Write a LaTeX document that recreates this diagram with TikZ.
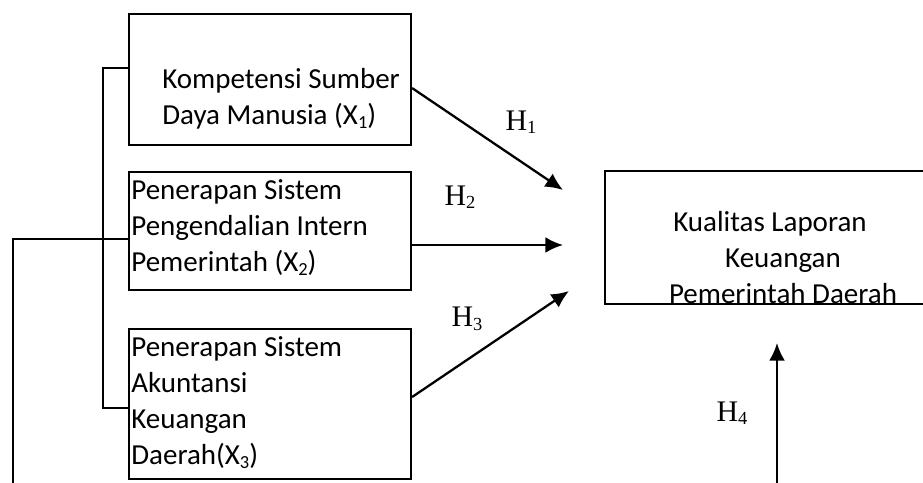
\documentclass[tikz,border=0pt]{standalone}
\usepackage{fontspec}
\setmainfont{Carlito}
\newfontfamily\hfont{Liberation Serif}
\usetikzlibrary{arrows.meta}
\newcommand{\lowidx}[1]{\raisebox{-0.25ex}{\fontsize{10.5}{10.5}\selectfont #1}}

\tikzset{
  var/.style={draw,line width=1.2pt,minimum width=5.64cm,anchor=north west,inner sep=0pt},
  vtext/.style={anchor=west,align=left,inner sep=0pt,font=\fontsize{16.5}{20.5}\selectfont},
  hyp/.style={font=\hfont\fontsize{17}{20}\selectfont,inner sep=0pt},
  link/.style={line width=1.3pt},
  effect/.style={line width=1.3pt,-{Latex[length=10pt,width=9pt]}}
}

\begin{document}
\begin{tikzpicture}[x=0.02cm,y=-0.02cm]
\clip (0,0) rectangle (923,483);
% variabel bebas
\node[var,minimum height=2.62cm] (komp) at (128,13) {};
\node[var,minimum height=2.36cm] (spip) at (128,171) {};
\node[var,minimum height=3.0cm] (akun) at (128,328) {};
\node[vtext] (kompT) at (162,99) {Kompetensi Sumber\\Daya Manusia (X\lowidx{1})};
\node[vtext] (spipT) at (131,228) {Penerapan Sistem\\Pengendalian Intern\\Pemerintah (X\lowidx{2})};
\node[vtext] (akunT) at (131,403) {Penerapan Sistem\\Akuntansi\\Keuangan\\Daerah(X\lowidx{3})};
% variabel terikat
\node[var,minimum width=7cm,minimum height=2.66cm] (kual) at (604,170) {};
\node[vtext,anchor=center,align=center] (kualT) at (783,258) {Kualitas Laporan\hspace*{0.52cm}\\Keuangan\\Pemerintah Daerah};

% ujung panah
\coordinate (t1) at (563,190);
\coordinate (t2) at (563,245);
\coordinate (t3) at (569,291);
\coordinate (t4) at (777,343);
\coordinate (s4) at (777,483);
\coordinate (b1) at (103,68);
\coordinate (b3) at (103,408);
\coordinate (lt) at (13,239);
\coordinate (lb) at (13,483);

\draw[effect] ([yshift=-0.17cm]komp.east) -- (t1);
\draw[effect] (spip.east |- t2) -- (t2);
\draw[effect] ([yshift=0.14cm]akun.east) -- (t3);
\draw[effect] (s4) -- (t4);

% simultan
\draw[link] (komp.west |- b1) -- (b1) -- (b3) -- (akun.west |- b3);
\draw[link] (spip.west |- lt) -- (lt) -- (lb);

\node[hyp] (h1) at (521,122) {H\lowidx{1}};
\node[hyp] (h2) at (460,197) {H\lowidx{2}};
\node[hyp] (h3) at (467,319) {H\lowidx{3}};
\node[hyp] (h4) at (732,413) {H\lowidx{4}};
\end{tikzpicture}
\end{document}
